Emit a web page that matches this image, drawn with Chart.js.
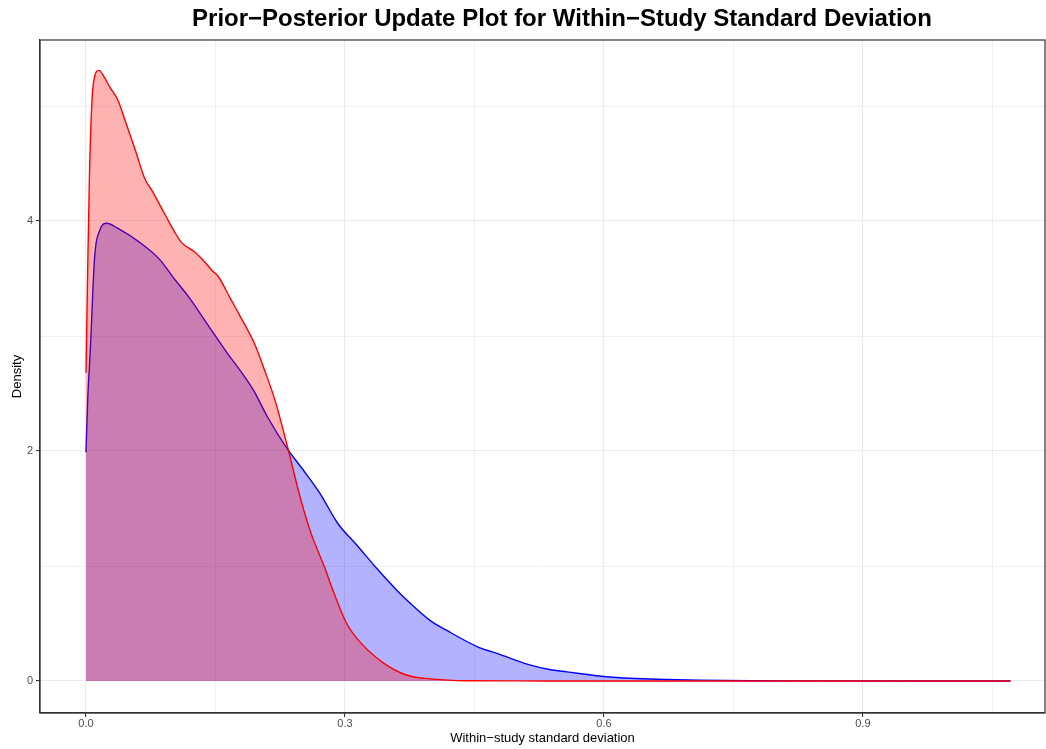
<!DOCTYPE html>
<html>
<head>
<meta charset="utf-8">
<script src="https://cdn.jsdelivr.net/npm/chart.js@4"></script>
<style>
html,body{margin:0;padding:0;background:#fff;}
#wrap{width:1046px;height:749px;}
</style>
</head>
<body>
<div id="wrap"><canvas id="c" width="1046" height="749"></canvas></div>
<script>
const chartTitle = 'Prior\u2212Posterior Update Plot for Within\u2212Study Standard Deviation';
// Posterior (red)
const postX = [0, 0.002, 0.004, 0.0066, 0.009, 0.015, 0.022, 0.028, 0.037, 0.045, 0.057, 0.068, 0.076, 0.092, 0.103, 0.111, 0.126, 0.138, 0.146, 0.153, 0.167, 0.178, 0.196, 0.207, 0.219, 0.234, 0.248, 0.2595, 0.2768, 0.286, 0.302, 0.315, 0.344, 0.372, 0.402, 0.44, 0.5, 0.6, 0.8, 1.071];
const postY = [2.68, 3.6, 4.4, 5.0, 5.22, 5.31, 5.24, 5.16, 5.05, 4.88, 4.62, 4.37, 4.27, 4.05, 3.90, 3.81, 3.73, 3.64, 3.57, 3.52, 3.33, 3.18, 2.92, 2.70, 2.44, 2.02, 1.60, 1.31, 0.98, 0.79, 0.50, 0.36, 0.16, 0.05, 0.017, 0.003, 0.001, 0, 0, 0];
// Prior (blue)
const priorX = [0, 0.002, 0.005, 0.01, 0.016, 0.024, 0.036, 0.063, 0.086, 0.101, 0.12, 0.14, 0.161, 0.194, 0.21, 0.233, 0.2517, 0.271, 0.2904, 0.296, 0.3136, 0.3367, 0.36, 0.375, 0.398, 0.418, 0.453, 0.48, 0.514, 0.537, 0.557, 0.6, 0.653, 0.711, 0.77, 0.85, 0.95, 1.071];
const priorY = [1.99, 2.45, 2.88, 3.69, 3.92, 3.98, 3.94, 3.81, 3.66, 3.51, 3.33, 3.11, 2.88, 2.53, 2.30, 2.02, 1.835, 1.632, 1.385, 1.328, 1.183, 0.98, 0.79, 0.68, 0.53, 0.44, 0.30, 0.23, 0.14, 0.10, 0.08, 0.04, 0.017, 0.008, 0.003, 0.001, 0, 0];

const xTicks = [0, 0.15, 0.3, 0.45, 0.6, 0.75, 0.9, 1.05];
const xLabels = ['0.0', '', '0.3', '', '0.6', '', '0.9', ''];
const yTicks = [0, 1, 2, 3, 4, 5];
const yLabels = ['0', '', '2', '', '4', ''];

const toPts = (xs, ys) => xs.map((x, i) => ({x: x, y: ys[i]}));

const decorPlugin = {
  id: 'decor',
  afterDraw(chart) {
    const a = chart.chartArea, ctx = chart.ctx;
    ctx.save();
    ctx.strokeStyle = '#333333';
    ctx.lineWidth = 1.2;
    ctx.strokeRect(a.left, a.top, a.right - a.left, a.bottom - a.top);
    ctx.fillStyle = '#000';
    ctx.font = 'bold 24px "Liberation Sans", Arial, sans-serif';
    ctx.textAlign = 'center';
    ctx.textBaseline = 'middle';
    ctx.fillText(chartTitle, 562, 19);
    ctx.restore();
  }
};

new Chart(document.getElementById('c'), {
  type: 'line',
  data: {
    datasets: [
      {
        label: 'Posterior',
        data: toPts(postX, postY),
        borderColor: '#FF0000',
        backgroundColor: 'rgba(255,0,0,0.3)',
        borderWidth: 1.4,
        fill: 'origin',
        pointRadius: 0,
        cubicInterpolationMode: 'monotone'
      },
      {
        label: 'Prior',
        data: toPts(priorX, priorY),
        borderColor: '#0000FF',
        backgroundColor: 'rgba(0,0,255,0.3)',
        borderWidth: 1.4,
        fill: 'origin',
        pointRadius: 0,
        cubicInterpolationMode: 'monotone'
      }
    ]
  },
  plugins: [decorPlugin],
  options: {
    responsive: false,
    animation: false,
    layout: {padding: {left: 0, right: 1, top: 40, bottom: 0}},
    plugins: {
      legend: {display: false},
      tooltip: {enabled: false},
      title: {display: false}
    },
    scales: {
      x: {
        type: 'linear',
        min: -0.0533,
        max: 1.111,
        afterBuildTicks: s => { s.ticks = xTicks.map(v => ({value: v})); },
        afterFit: s => { s.height = 36; },
        ticks: {
          autoSkip: false,
          maxRotation: 0,
          color: '#4D4D4D',
          font: {family: 'Liberation Sans, Arial, sans-serif', size: 11},
          padding: 0,
          callback: (v, i) => xLabels[i]
        },
        grid: {
          color: '#EBEBEB',
          lineWidth: c => (c.index % 2 === 0 ? 1.1 : 0.7),
          tickColor: c => (c.index % 2 === 0 ? '#333333' : 'rgba(0,0,0,0)'),
          tickLength: 4,
          drawOnChartArea: true
        },
        border: {display: true, color: '#333333', width: 1.2},
        title: {
          display: true,
          text: 'Within\u2212study standard deviation',
          color: '#000',
          font: {family: 'Liberation Sans, Arial, sans-serif', size: 13},
          padding: {top: 0, bottom: 3}
        }
      },
      y: {
        type: 'linear',
        min: -0.278,
        max: 5.574,
        afterBuildTicks: s => { s.ticks = yTicks.map(v => ({value: v})); },
        afterFit: s => { s.width = 40; },
        ticks: {
          color: '#4D4D4D',
          font: {family: 'Liberation Sans, Arial, sans-serif', size: 11},
          padding: 3,
          callback: (v, i) => yLabels[i]
        },
        grid: {
          color: '#EBEBEB',
          lineWidth: c => (c.index % 2 === 0 ? 1.1 : 0.7),
          tickColor: c => (c.index % 2 === 0 ? '#333333' : 'rgba(0,0,0,0)'),
          tickLength: 4
        },
        border: {display: true, color: '#333333', width: 1.2},
        title: {
          display: true,
          text: 'Density',
          color: '#000',
          font: {family: 'Liberation Sans, Arial, sans-serif', size: 13},
          padding: {top: 10, bottom: 0}
        }
      }
    }
  }
});
</script>
</body>
</html>
